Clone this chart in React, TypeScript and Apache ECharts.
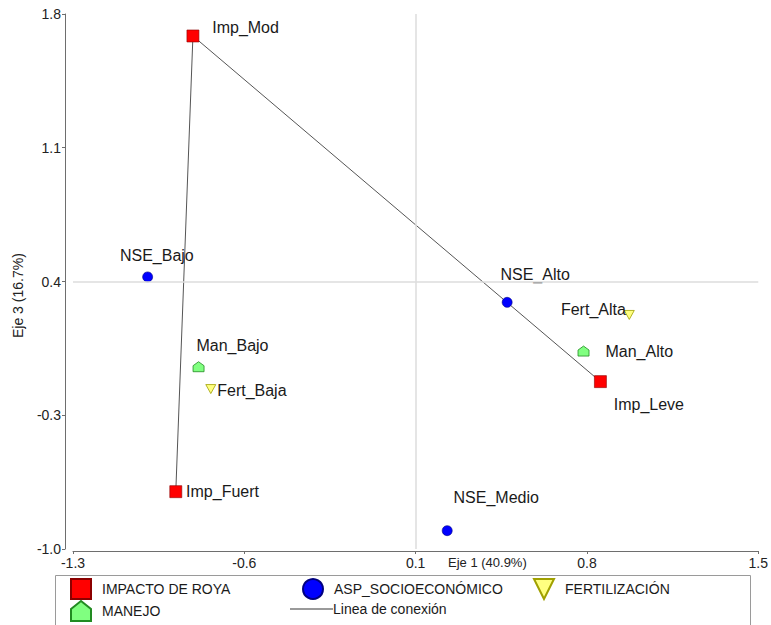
import React, { useEffect, useRef } from "react";
import * as echarts from "echarts";

// ---- Data ----
const xTicks = [-1.3, -0.6, 0.1, 0.8, 1.5];
const yTicks = [-1.0, -0.3, 0.4, 1.1, 1.8];

const impNames = ["Imp_Mod", "Imp_Leve", "Imp_Fuert"];
const impX = [-0.81, 0.855, -0.88];
const impY = [1.685, -0.124, -0.7];

const nseNames = ["NSE_Bajo", "NSE_Alto", "NSE_Medio"];
const nseX = [-0.995, 0.474, 0.229];
const nseY = [0.424, 0.291, -0.904];

const fertNames = ["Fert_Alta", "Fert_Baja"];
const fertX = [0.973, -0.737];
const fertY = [0.225, -0.163];

const manNames = ["Man_Alto", "Man_Bajo"];
const manX = [0.786, -0.787];
const manY = [0.036, -0.046];

// connection order: Imp_Fuert -> Imp_Mod -> Imp_Leve
const connOrder = [2, 0, 1];

// reference lines
const refX = 0.1;
const refY = 0.4;

// label placement (style only)
const impLabel: [string, number[]][] = [["right", [13, -8]], ["right", [7, 23]], ["right", [4, 0]]];
const nseLabel: [string, number[]][] = [["right", [-33, -21]], ["right", [-12, -28]], ["right", [1, -33]]];
const fertLabel: [string, number[]][] = [["left", [2, -5]], ["right", [1, 1]]];
const manLabel: [string, number[]][] = [["right", [16, 0]], ["right", [-8, -21]]];

const FONT = "'Liberation Sans', Arial, sans-serif";
const HOUSE = "path://M0,8 L10,0 L20,8 L20,20 L0,20 Z";
const DOWNTRI = "path://M0,0 L20,0 L10,20 Z";

function pts(names: string[], xs: number[], ys: number[], labels: [string, number[]][]) {
  return names.map((n, i) => ({
    name: n,
    value: [xs[i], ys[i]],
    label: { position: labels[i][0], offset: labels[i][1] },
  }));
}

export default function App() {
  const ref = useRef<HTMLDivElement>(null);
  useEffect(() => {
    if (!ref.current) return;
    const chart = echarts.init(ref.current, null, { renderer: "svg" });
    const pointLabel = {
      show: true,
      formatter: "{b}",
      distance: 0,
      fontSize: 16,
      fontFamily: FONT,
      color: "#1a1a1a",
    };
    const legendBase = {
      itemWidth: 20,
      itemHeight: 20,
      padding: 0,
      textStyle: { fontSize: 14, fontFamily: FONT, color: "#1a1a1a", padding: [0, 0, 0, 6] },
      selectedMode: false,
    };
    chart.setOption({
      animation: false,
      backgroundColor: "#ffffff",
      grid: { left: 73, right: 12, top: 14, bottom: 76, containLabel: false },
      xAxis: {
        type: "value",
        min: -1.3,
        max: 1.5,
        offset: 2,
        axisLine: { show: true, onZero: false, lineStyle: { color: "#6e6e6e", width: 1 } },
        axisTick: { show: true, length: 3, customValues: xTicks, lineStyle: { color: "#6e6e6e" } },
        axisLabel: {
          customValues: xTicks,
          formatter: (v: number) => v.toFixed(1),
          fontSize: 14,
          fontFamily: FONT,
          color: "#222",
          margin: 5,
        },
        splitLine: { show: false },
      },
      yAxis: {
        type: "value",
        min: -1.0,
        max: 1.8,
        offset: 8,
        axisLine: { show: true, onZero: false, lineStyle: { color: "#6e6e6e", width: 1 } },
        axisTick: { show: true, length: 3, customValues: yTicks, lineStyle: { color: "#6e6e6e" } },
        axisLabel: {
          customValues: yTicks,
          formatter: (v: number) => v.toFixed(1),
          fontSize: 14,
          fontFamily: FONT,
          color: "#222",
          margin: 4,
        },
        splitLine: { show: false },
      },
      legend: [
        { ...legendBase, data: ["IMPACTO DE ROYA"], left: 70, top: 578 },
        { ...legendBase, data: ["ASP_SOCIOECONÓMICO"], left: 302, top: 578 },
        { ...legendBase, data: ["FERTILIZACIÓN"], left: 533, top: 578 },
        { ...legendBase, data: ["MANEJO"], left: 70, top: 600 },
        {
          ...legendBase,
          itemWidth: 43,
          itemHeight: 2,
          textStyle: { fontSize: 14, fontFamily: FONT, color: "#1a1a1a", padding: [0, 0, 0, -5] },
          data: [{ name: "Linea de conexión", icon: "rect" }],
          left: 290,
          top: 602,
        },
      ],
      graphic: [
        {
          type: "rect",
          shape: { x: 55.5, y: 575.5, width: 695, height: 70 },
          style: { fill: "none", stroke: "#9a9a9a", lineWidth: 1 },
          silent: true,
        },
        {
          type: "text",
          left: 448,
          top: 556,
          style: { text: "Eje 1 (40.9%)", fontSize: 13, fontFamily: FONT, fill: "#222" },
          silent: true,
        },
        {
          type: "text",
          x: 11,
          y: 338,
          rotation: Math.PI / 2,
          style: { text: "Eje 3 (16.7%)", fontSize: 14, fontFamily: FONT, fill: "#222" },
          silent: true,
        },
      ],
      series: [
        {
          name: "refs",
          type: "line",
          data: [],
          silent: true,
          z: 1,
          markLine: {
            silent: true,
            symbol: "none",
            label: { show: false },
            lineStyle: { color: "#dcdcdc", width: 1.5, type: "solid" },
            data: [{ xAxis: refX }, { yAxis: refY }],
          },
        },
        {
          name: "Linea de conexión",
          type: "line",
          data: connOrder.map((i) => [impX[i], impY[i]]),
          symbol: "none",
          showSymbol: false,
          lineStyle: { color: "#555555", width: 1 },
          itemStyle: { color: "#9a9a9a" },
          z: 2,
          silent: true,
        },
        {
          name: "IMPACTO DE ROYA",
          type: "scatter",
          symbol: "rect",
          symbolSize: 12,
          itemStyle: { color: "#ff0000", borderColor: "#8b0000", borderWidth: 0.6, opacity: 1 },
          label: pointLabel,
          data: pts(impNames, impX, impY, impLabel),
          z: 3,
        },
        {
          name: "ASP_SOCIOECONÓMICO",
          type: "scatter",
          symbol: "circle",
          symbolSize: 10,
          itemStyle: { color: "#0000ff", borderColor: "#000080", borderWidth: 0.6, opacity: 1 },
          label: pointLabel,
          data: pts(nseNames, nseX, nseY, nseLabel),
          z: 3,
        },
        {
          name: "FERTILIZACIÓN",
          type: "scatter",
          symbol: DOWNTRI,
          symbolSize: [10, 9],
          itemStyle: { color: "#ffff80", borderColor: "#a0a000", borderWidth: 0.8, opacity: 1 },
          label: pointLabel,
          data: pts(fertNames, fertX, fertY, fertLabel),
          z: 3,
        },
        {
          name: "MANEJO",
          type: "scatter",
          symbol: HOUSE,
          symbolSize: [11, 10],
          itemStyle: { color: "#80ff80", borderColor: "#228b22", borderWidth: 0.8, opacity: 1 },
          label: pointLabel,
          data: pts(manNames, manX, manY, manLabel),
          z: 3,
        },
      ],
    });
    return () => chart.dispose();
  }, []);
  return (
    <div
      ref={ref}
      style={{ position: "fixed", left: 0, top: 0, width: 771, height: 625, background: "#fff" }}
    />
  );
}
